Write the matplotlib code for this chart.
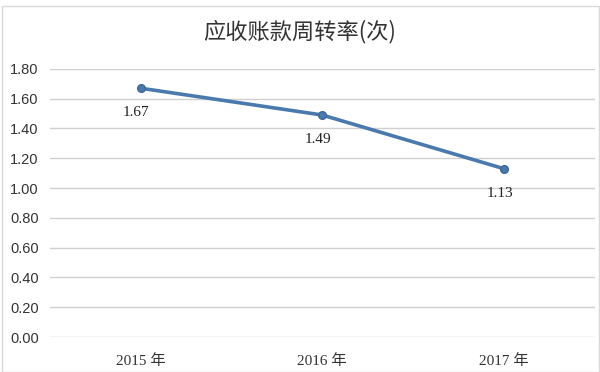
import matplotlib.pyplot as plt
from matplotlib.patches import Rectangle

years = ['2015 年', '2016 年', '2017 年']
turnover = [1.67, 1.49, 1.13]
y_ticks = [0.0, 0.2, 0.4, 0.6, 0.8, 1.0, 1.2, 1.4, 1.6, 1.8]
title = '应收账款周转率(次)'

cjk = ['Noto Sans CJK SC', 'DejaVu Sans']
serif = ['Liberation Serif', 'Noto Sans CJK SC']

fig = plt.figure(figsize=(6, 3.72), dpi=100)
ax = fig.add_axes([0.083, 0.094, 0.908, 0.721])

x = list(range(len(years)))
ax.plot(x, turnover, color='#4a79ae', linewidth=2.6, marker='o',
        markersize=5.5, markerfacecolor='#4a79ae', markeredgecolor='#3c6796',
        zorder=3)
for xi, v in zip(x, turnover):
    ax.annotate('{:.2f}'.format(v), (xi, v), xytext=(-3, -13),
                textcoords='offset points', ha='center', va='top',
                fontsize=11, family=serif, color='#222222')

ax.set_xlim(-0.5, len(years) - 0.5)
ax.set_ylim(0, 1.8)
ax.set_yticks(y_ticks)
ax.set_yticklabels(['{:.2f}'.format(t) for t in y_ticks],
                   family=['Liberation Sans'], fontsize=10.5, color='#333333')
ax.set_xticks(x)
ax.set_xticklabels(years, family=serif, fontsize=11, color='#333333')
ax.tick_params(length=0, pad=8)
ax.tick_params(axis='x', pad=12)
ax.grid(axis='y', color='#d0d0d0', linewidth=1)
ax.set_axisbelow(True)
for s in ax.spines.values():
    s.set_visible(False)

fig.text(0.5, 0.915, title, ha='center', va='center', fontsize=16,
         family=cjk, color='#333333')
fig.patches.append(Rectangle((0.004, 0.0), 0.995, 0.985, transform=fig.transFigure,
                             fill=False, edgecolor='#d9d9d9', linewidth=1))

fig.savefig('out.png', dpi=100)
